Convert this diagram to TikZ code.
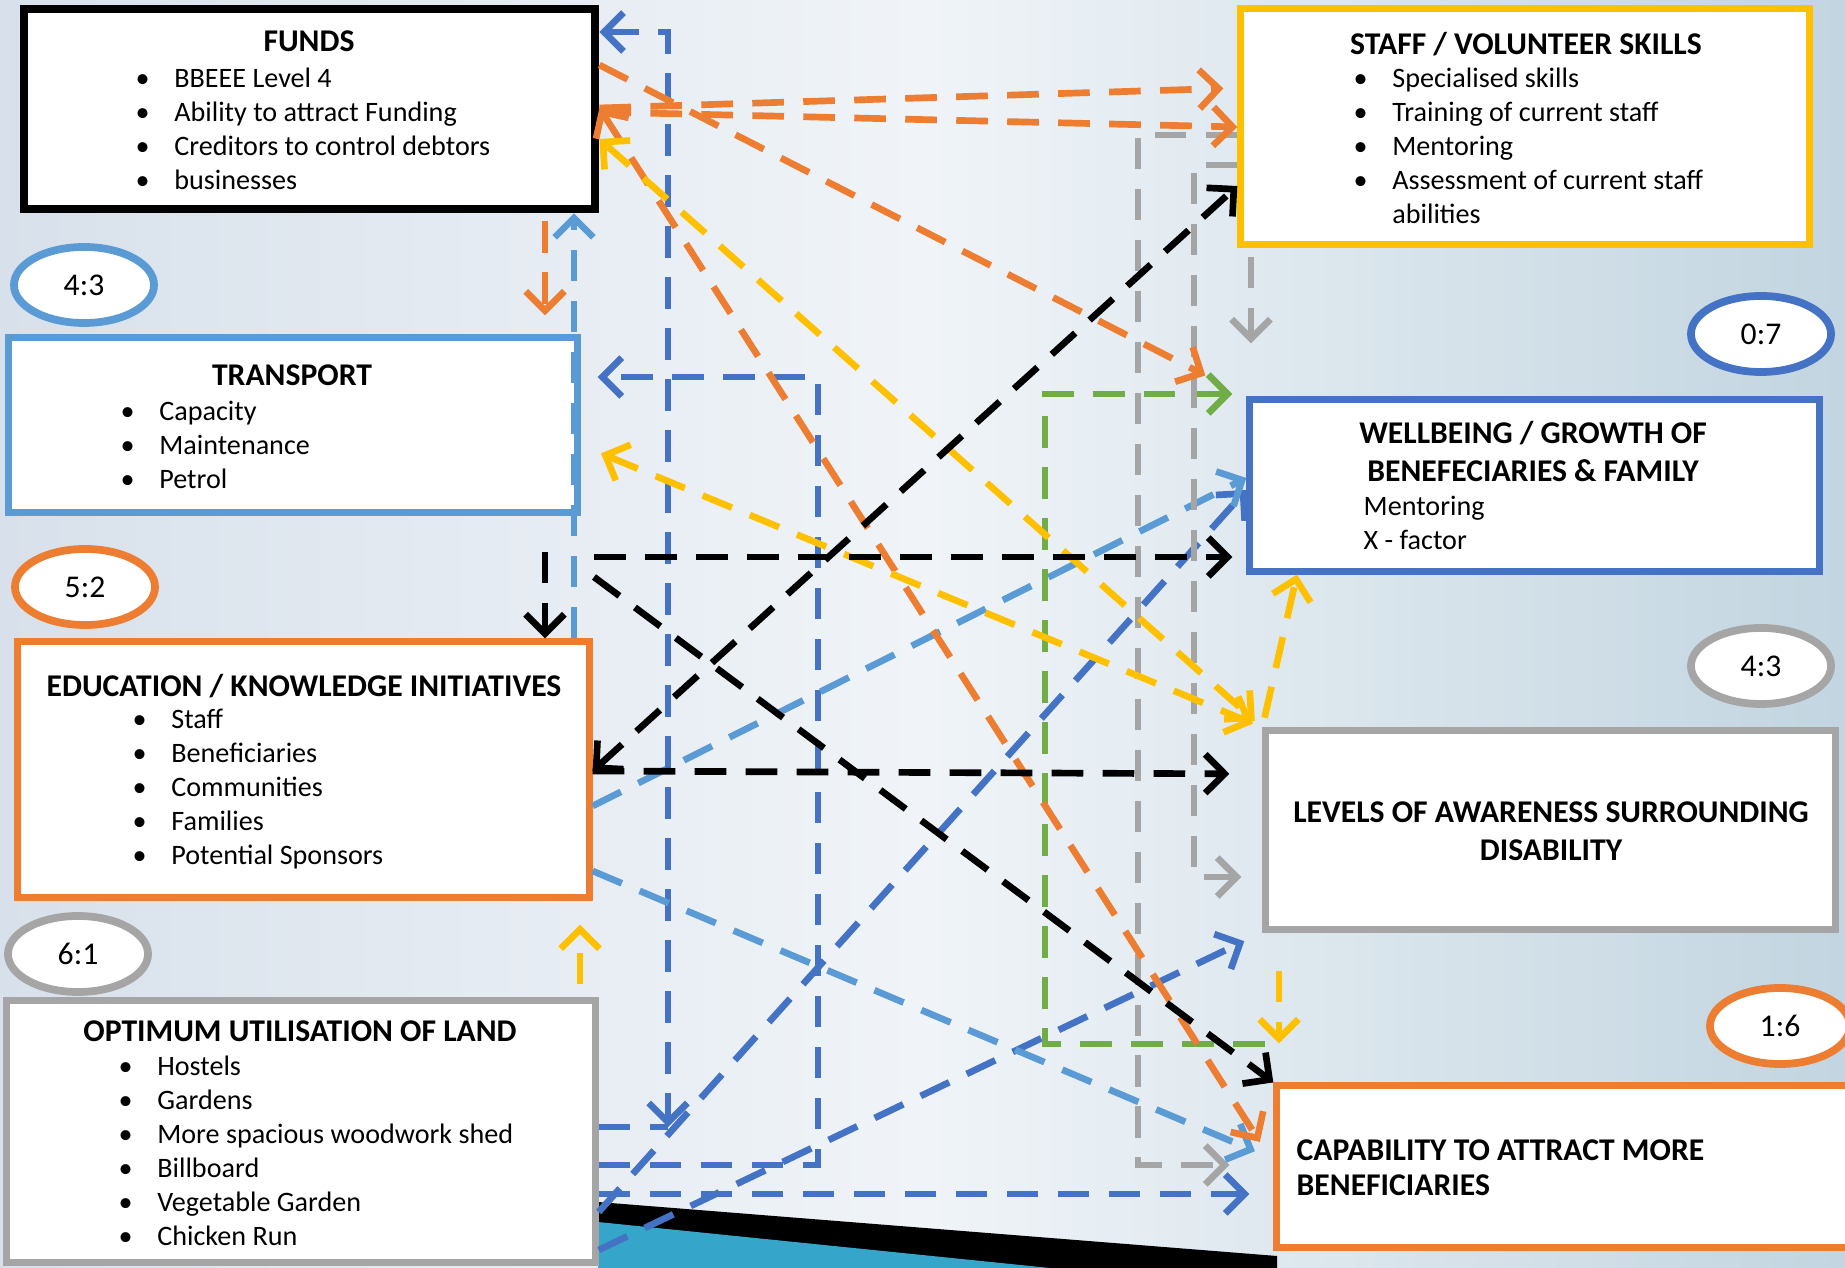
\documentclass[tikz,border=0pt]{standalone}
\usepackage{fontspec}
\setmainfont{Carlito}
\usetikzlibrary{shapes.geometric, arrows.meta, calc}

\definecolor{cOrange}{HTML}{ED7D31}
\definecolor{cYellow}{HTML}{FFC000}
\definecolor{cLBlue}{HTML}{5B9BD5}
\definecolor{cDBlue}{HTML}{4472C4}
\definecolor{cGray}{HTML}{A5A5A5}
\definecolor{cGreen}{HTML}{70AD47}
\definecolor{bgLeft}{HTML}{D8E1EB}
\definecolor{bgMid}{HTML}{F0F4F8}
\definecolor{bgRight}{HTML}{C2D5E0}
\definecolor{swoosh}{HTML}{35A6CA}

\newcommand{\bl}{\makebox[11pt][l]{\textbullet}}

\begin{document}
\begin{tikzpicture}[x=0.01cm, y=-0.01cm,
  >={Straight Barb[length=5.5pt,width=11pt]},
  box/.style={draw, fill=white, line width=2pt, inner sep=0pt},
  ratio/.style={ellipse, draw, fill=white, line width=2.2pt, minimum width=1.40cm, minimum height=0.76cm, inner sep=0pt, font=\fontsize{9}{11}\selectfont},
  ttl/.style={font=\fontsize{9}{10.8}\selectfont\bfseries, align=center, inner sep=0pt},
  lst/.style={font=\fontsize{8}{9.67}\selectfont, align=left, anchor=west, inner sep=0pt},
  link/.style={line width=1.9pt, dash pattern=on 9pt off 5.5pt}]

\useasboundingbox (0,0) rectangle (1845,1268);
\clip (0,0) rectangle (1845,1268);
\shade[left color=bgLeft, right color=bgRight, middle color=bgMid] (0,0) rectangle (1845,1268);
\fill[black] (598,1202) -- (1277,1256) -- (1277,1268) -- (598,1268) -- cycle;
\fill[swoosh] (598,1222) -- (1050,1268) -- (598,1268) -- cycle;

% boxes
\node[box, draw=black, line width=2.4pt, minimum width=5.71cm, minimum height=2.00cm] (funds) at (309.5,109) {};
\node[box, draw=cYellow, minimum width=5.68cm, minimum height=2.35cm] (staff) at (1525,126.5) {};
\node[box, draw=cLBlue, minimum width=5.68cm, minimum height=1.74cm] (transport) at (293,425) {};
\node[box, draw=cDBlue, minimum width=5.69cm, minimum height=1.71cm] (wellbeing) at (1534.5,485.5) {};
\node[box, draw=cOrange, minimum width=5.71cm, minimum height=2.55cm] (education) at (303.5,769.5) {};
\node[box, draw=cGray, minimum width=5.69cm, minimum height=1.98cm] (levels) at (1550.5,830) {};
\node[box, draw=cGray, minimum width=5.88cm, minimum height=2.61cm] (land) at (301,1131.5) {};
\node[box, draw=cOrange, minimum width=5.93cm, minimum height=1.61cm] (capability) at (1573.5,1166.5) {};

\node[ratio, draw=cLBlue] (r-transport) at (84,285) {4:3};
\node[ratio, draw=cDBlue] (r-wellbeing) at (1761,334) {0:7};
\node[ratio, draw=cOrange] (r-education) at (85,587) {5:2};
\node[ratio, draw=cGray] (r-levels) at (1761,666) {4:3};
\node[ratio, draw=cGray] (r-land) at (78,954) {6:1};
\node[ratio, draw=cOrange] (r-capability) at (1780,1026) {1:6};

% texts
\node[ttl] (funds-t) at (309,41) {FUNDS};
\node[lst] (funds-l) at (135,128.5) {\bl BBEEE Level 4\\\bl Ability to attract Funding\\\bl Creditors to control debtors\\\bl businesses};
\node[ttl] (staff-t) at (1526,44) {STAFF / VOLUNTEER SKILLS};
\node[lst] (staff-l) at (1353,146) {\bl Specialised skills\\\bl Training of current staff\\\bl Mentoring\\\bl Assessment of current staff\\\makebox[11pt]{}abilities};
\node[ttl] (transport-t) at (292,375) {TRANSPORT};
\node[lst] (transport-l) at (120,445) {\bl Capacity\\\bl Maintenance\\\bl Petrol};
\node[ttl] (wellbeing-t) at (1533,452) {WELLBEING / GROWTH OF\\BENEFECIARIES \& FAMILY};
\node[lst] (wellbeing-l) at (1363,523) {Mentoring\\X - factor};
\node[ttl] (education-t) at (304,686) {EDUCATION / KNOWLEDGE INITIATIVES};
\node[lst] (education-l) at (132,789) {\bl Staff\\\bl Beneficiaries\\\bl Communities\\\bl Families\\\bl Potential Sponsors};
\node[ttl] (levels-t) at (1551,831) {LEVELS OF AWARENESS SURROUNDING\\DISABILITY};
\node[ttl] (land-t) at (300,1031) {OPTIMUM UTILISATION OF LAND};
\node[lst] (land-l) at (118,1151) {\bl Hostels\\\bl Gardens\\\bl More spacious woodwork shed\\\bl Billboard\\\bl Vegetable Garden\\\bl Chicken Run};
\node[ttl, align=left, anchor=west, font=\fontsize{9}{10}\selectfont\bfseries] (capability-t) at (1296,1168) {CAPABILITY TO ATTRACT MORE\\BENEFICIARIES};

\coordinate (kb) at (594,557);
\coordinate (kc) at (594,577);
\coordinate (gs) at (1265,1044);

% dark blue
\draw[link, cDBlue, <->] (funds.east |- 0,32) -| (668,1127);
\draw[link, cDBlue] (land.east |- 0,1127) -- (668,1127);
\draw[link, cDBlue, ->, shorten >=0.17cm] (land.east |- 0,1165) -| (818,377) -- (transport.east |- 0,377);
\draw[link, cDBlue, ->, shorten >=0.24cm] (land.east |- 0,1194) -- (capability.west |- 0,1194);
\draw[link, cDBlue, ->, shorten >=0.2cm] (land.east |- 0,1250) -- (levels.south west);
\draw[link, cDBlue, ->] (land.east |- 0,1212) -- (wellbeing.west |- 0,490);

% light blue
\draw[link, cLBlue, ->] (574,0 |- education.north) -- (574,0 |- funds.south);
\draw[link, cLBlue, ->] (education.east |- 0,806) -- (wellbeing.west |- 0,478);
\draw[link, cLBlue, ->, shorten >=0.2cm] (education.east |- 0,871) -- (capability.west |- 0,1159);

% green
\draw[link, cGreen, ->, shorten >=0.14cm] (gs) -| (1045,394) -- (wellbeing.west |- 0,394);

% gray
\draw[link, cGray, ->, shorten <=0.09cm, shorten >=0.53cm] (1251,0 |- staff.south) -- (1251,0 |- wellbeing.north);
\draw[link, cGray, ->, shorten >=0.44cm] (staff.west |- 0,135) -| (1138,1165) -- (capability.west |- 0,1165);
\draw[link, cGray, ->, shorten >=0.21cm] (staff.west |- 0,165) -| (1194,877) -- (levels.west |- 0,877);

% orange
\draw[link, cOrange, ->, shorten <=0.08cm, shorten >=0.19cm] (545,0 |- funds.south) -- (545,0 |- transport.north);
\draw[link, cOrange, ->, shorten >=0.14cm] (funds.east |- 0,108) -- (staff.west |- 0,88);
\draw[link, cOrange, ->] (funds.east |- 0,112) -- (staff.west |- 0,127);
\draw[link, cOrange, ->, shorten >=0.46cm] (funds.east |- 0,65) -- (wellbeing.north west);
\draw[link, cOrange, <->, shorten >=0.25cm] (funds.east |- 0,108) -- (capability.west |- 0,1163);

% yellow
\draw[link, cYellow, <->, shorten >=0.1cm] (funds.east |- 0,139) -- (levels.north west);
\draw[link, cYellow, <->, shorten <=0.22cm, shorten >=0.1cm] (transport.east |- 0,445) -- (levels.north west);
\draw[link, cYellow, ->, shorten <=0.1cm] (levels.north west) -- (1297,0 |- wellbeing.south);
\draw[link, cYellow, ->, shorten <=0.38cm, shorten >=0.39cm] (1279,0 |- levels.south) -- (1279,0 |- capability.north);
\draw[link, cYellow, ->, shorten <=0.13cm, shorten >=0.24cm] (580,0 |- land.north) -- (580,0 |- education.south);

% black
\draw[link, black, ->, shorten <=0.36cm] (545,0 |- transport.south) -- (545,0 |- education.north);
\draw[link, black, ->, shorten >=0.14cm] (kb) -- (wellbeing.west |- 0,557);
\draw[link, black, ->] (kc) -- (capability.north west);
\draw[link, black, ->, shorten >=0.33cm] (education.east |- 0,771) -- (levels.west |- 0,774);
\draw[link, black, <->] (education.east |- 0,771) -- (staff.west |- 0,186);
\end{tikzpicture}
\end{document}
